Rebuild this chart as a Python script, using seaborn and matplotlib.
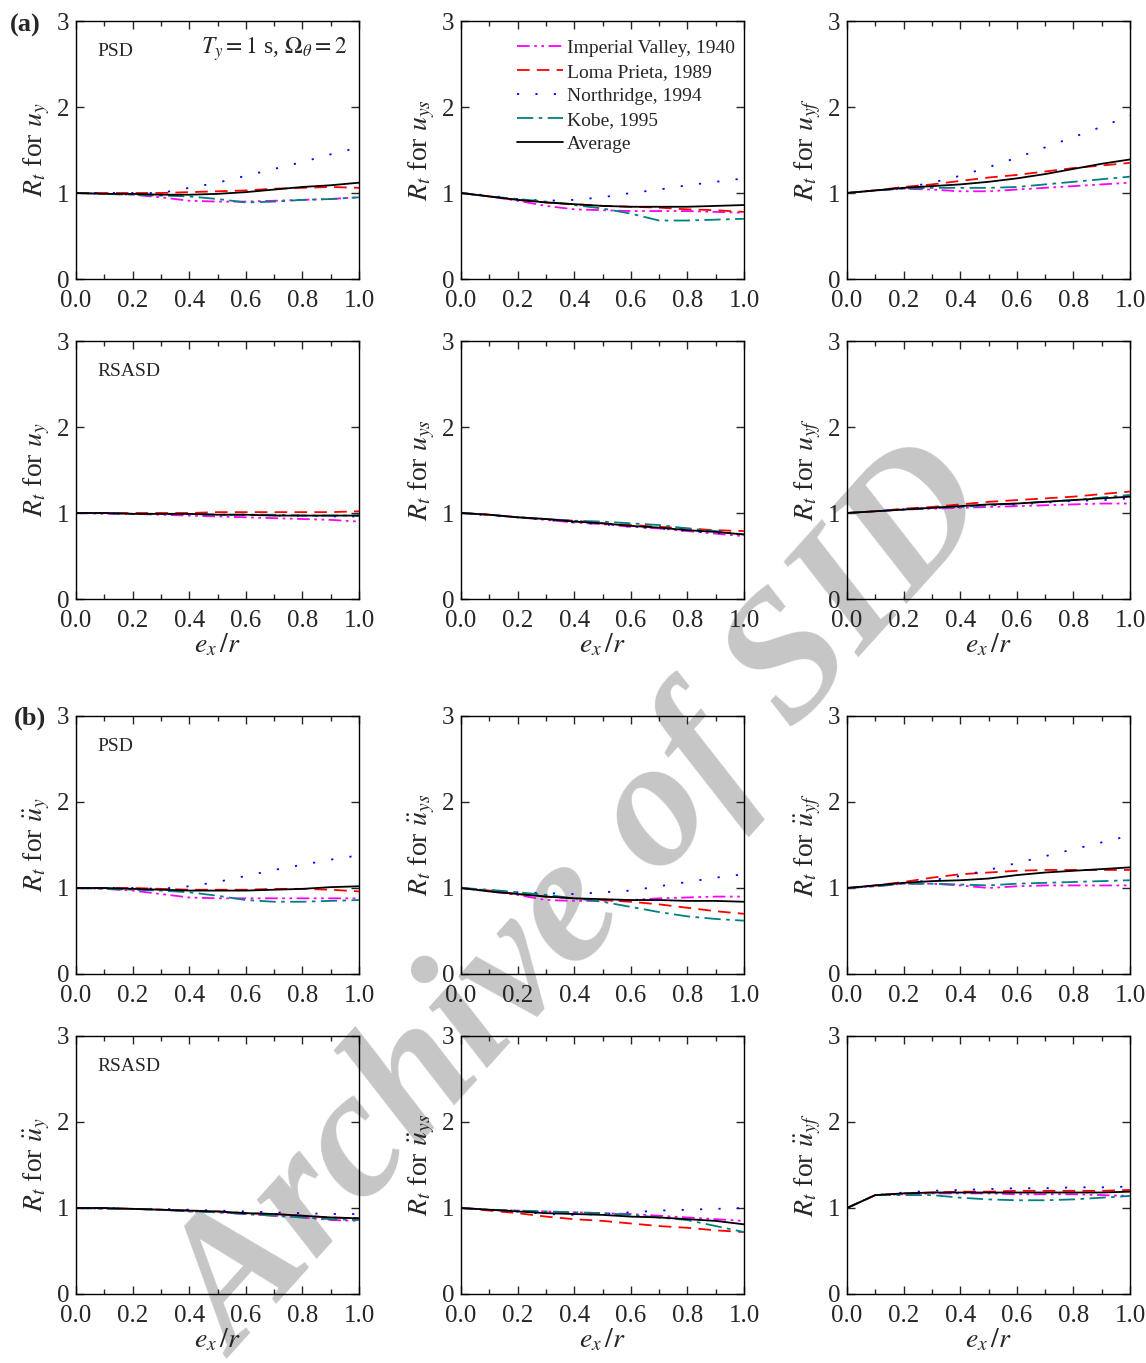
import numpy as np
import pandas as pd
import matplotlib
matplotlib.use("Agg")
import matplotlib.pyplot as plt
from matplotlib.ticker import MultipleLocator
import seaborn as sns

# ---------------- data ----------------
ex = [0.0, 0.1, 0.2, 0.3, 0.4, 0.5, 0.6, 0.7, 0.8, 0.9, 1.0]
quakes = ["Imperial Valley, 1940", "Loma Prieta, 1989", "Northridge, 1994", "Kobe, 1995", "Average"]

# (a) PSD
a_psd_uy_imp = [1.0, 0.99, 0.98, 0.95, 0.91, 0.90, 0.90, 0.91, 0.92, 0.93, 0.95]
a_psd_uy_lom = [1.0, 1.0, 1.0, 1.0, 1.01, 1.02, 1.03, 1.05, 1.06, 1.07, 1.06]
a_psd_uy_nor = [1.0, 1.0, 1.0, 1.0, 1.06, 1.12, 1.20, 1.28, 1.36, 1.45, 1.53]
a_psd_uy_kob = [1.0, 0.99, 0.98, 0.97, 0.96, 0.93, 0.89, 0.90, 0.92, 0.93, 0.95]
a_psd_uy_avg = [1.0, 0.99, 0.99, 0.98, 0.98, 0.99, 1.01, 1.04, 1.07, 1.09, 1.12]

a_psd_uys_imp = [1.0, 0.96, 0.91, 0.85, 0.81, 0.80, 0.79, 0.79, 0.79, 0.78, 0.77]
a_psd_uys_lom = [1.0, 0.96, 0.92, 0.89, 0.87, 0.85, 0.84, 0.83, 0.81, 0.80, 0.78]
a_psd_uys_nor = [1.0, 0.97, 0.93, 0.91, 0.92, 0.95, 1.00, 1.04, 1.09, 1.13, 1.17]
a_psd_uys_kob = [1.0, 0.96, 0.93, 0.90, 0.86, 0.82, 0.76, 0.68, 0.68, 0.69, 0.70]
a_psd_uys_avg = [1.0, 0.96, 0.92, 0.89, 0.87, 0.85, 0.84, 0.84, 0.84, 0.85, 0.86]

a_psd_uyf_imp = [1.0, 1.03, 1.05, 1.04, 1.02, 1.02, 1.04, 1.06, 1.08, 1.10, 1.12]
a_psd_uyf_lom = [1.0, 1.03, 1.07, 1.10, 1.14, 1.18, 1.21, 1.25, 1.29, 1.32, 1.35]
a_psd_uyf_nor = [1.0, 1.03, 1.06, 1.12, 1.20, 1.30, 1.41, 1.53, 1.65, 1.77, 1.90]
a_psd_uyf_kob = [1.0, 1.03, 1.05, 1.06, 1.06, 1.06, 1.07, 1.10, 1.13, 1.16, 1.19]
a_psd_uyf_avg = [1.0, 1.03, 1.06, 1.08, 1.10, 1.13, 1.17, 1.22, 1.28, 1.34, 1.39]

# (a) RSASD
a_rs_uy_imp = [1.0, 0.99, 0.99, 0.98, 0.97, 0.96, 0.95, 0.94, 0.93, 0.92, 0.90]
a_rs_uy_lom = [1.0, 1.0, 1.0, 1.0, 1.0, 1.01, 1.01, 1.01, 1.01, 1.01, 1.02]
a_rs_uy_nor = [1.0, 1.0, 0.99, 0.99, 0.99, 0.98, 0.98, 0.97, 0.97, 0.96, 0.96]
a_rs_uy_kob = [1.0, 1.0, 0.99, 0.99, 0.99, 0.98, 0.98, 0.98, 0.97, 0.97, 0.97]
a_rs_uy_avg = [1.0, 1.0, 0.99, 0.99, 0.99, 0.98, 0.98, 0.97, 0.97, 0.97, 0.97]

a_rs_uys_imp = [1.0, 0.98, 0.95, 0.92, 0.89, 0.87, 0.84, 0.82, 0.79, 0.76, 0.73]
a_rs_uys_lom = [1.0, 0.98, 0.95, 0.93, 0.91, 0.88, 0.86, 0.84, 0.82, 0.80, 0.79]
a_rs_uys_nor = [1.0, 0.97, 0.95, 0.92, 0.89, 0.87, 0.84, 0.82, 0.79, 0.77, 0.75]
a_rs_uys_kob = [1.0, 0.98, 0.95, 0.93, 0.91, 0.90, 0.88, 0.86, 0.82, 0.79, 0.75]
a_rs_uys_avg = [1.0, 0.98, 0.95, 0.93, 0.90, 0.88, 0.85, 0.83, 0.80, 0.78, 0.75]

a_rs_uyf_imp = [1.0, 1.02, 1.04, 1.05, 1.06, 1.07, 1.08, 1.09, 1.10, 1.11, 1.11]
a_rs_uyf_lom = [1.0, 1.02, 1.05, 1.07, 1.10, 1.13, 1.15, 1.17, 1.19, 1.22, 1.25]
a_rs_uyf_nor = [1.0, 1.02, 1.04, 1.06, 1.07, 1.09, 1.10, 1.12, 1.14, 1.15, 1.17]
a_rs_uyf_kob = [1.0, 1.02, 1.04, 1.06, 1.07, 1.09, 1.11, 1.13, 1.15, 1.18, 1.21]
a_rs_uyf_avg = [1.0, 1.02, 1.04, 1.06, 1.08, 1.10, 1.11, 1.13, 1.15, 1.17, 1.19]

# (b) PSD
b_psd_uy_imp = [1.0, 0.99, 0.97, 0.93, 0.89, 0.88, 0.88, 0.88, 0.88, 0.88, 0.88]
b_psd_uy_lom = [1.0, 1.0, 1.0, 0.99, 0.98, 0.98, 0.98, 0.99, 0.99, 0.98, 0.96]
b_psd_uy_nor = [1.0, 1.0, 1.0, 0.99, 1.02, 1.07, 1.14, 1.21, 1.27, 1.33, 1.38]
b_psd_uy_kob = [1.0, 0.99, 0.98, 0.97, 0.95, 0.91, 0.86, 0.84, 0.84, 0.85, 0.86]
b_psd_uy_avg = [1.0, 1.0, 0.99, 0.98, 0.97, 0.97, 0.97, 0.98, 0.99, 1.01, 1.02]

b_psd_uys_imp = [1.0, 0.96, 0.92, 0.86, 0.85, 0.85, 0.86, 0.88, 0.89, 0.90, 0.90]
b_psd_uys_lom = [1.0, 0.97, 0.93, 0.90, 0.88, 0.86, 0.84, 0.81, 0.77, 0.73, 0.70]
b_psd_uys_nor = [1.0, 0.97, 0.95, 0.94, 0.93, 0.95, 0.97, 1.02, 1.07, 1.12, 1.16]
b_psd_uys_kob = [1.0, 0.98, 0.95, 0.92, 0.88, 0.84, 0.78, 0.72, 0.67, 0.64, 0.62]
b_psd_uys_avg = [1.0, 0.96, 0.93, 0.90, 0.88, 0.87, 0.86, 0.86, 0.85, 0.85, 0.84]

b_psd_uyf_imp = [1.0, 1.02, 1.05, 1.05, 1.03, 1.00, 1.02, 1.03, 1.03, 1.03, 1.03]
b_psd_uyf_lom = [1.0, 1.03, 1.07, 1.12, 1.16, 1.18, 1.20, 1.21, 1.21, 1.21, 1.21]
b_psd_uyf_nor = [1.0, 1.03, 1.06, 1.09, 1.14, 1.21, 1.29, 1.37, 1.45, 1.53, 1.61]
b_psd_uyf_kob = [1.0, 1.02, 1.05, 1.05, 1.04, 1.03, 1.05, 1.06, 1.07, 1.08, 1.09]
b_psd_uyf_avg = [1.0, 1.03, 1.06, 1.08, 1.09, 1.11, 1.15, 1.18, 1.20, 1.22, 1.24]

# (b) RSASD
b_rs_uy_imp = [1.0, 0.99, 0.99, 0.98, 0.96, 0.95, 0.93, 0.91, 0.89, 0.86, 0.85]
b_rs_uy_lom = [1.0, 1.0, 0.99, 0.98, 0.97, 0.96, 0.94, 0.93, 0.91, 0.89, 0.88]
b_rs_uy_nor = [1.0, 1.0, 0.99, 0.99, 0.98, 0.97, 0.96, 0.95, 0.94, 0.93, 0.93]
b_rs_uy_kob = [1.0, 0.99, 0.99, 0.98, 0.96, 0.95, 0.93, 0.91, 0.89, 0.87, 0.86]
b_rs_uy_avg = [1.0, 1.0, 0.99, 0.98, 0.97, 0.96, 0.94, 0.93, 0.91, 0.89, 0.88]

b_rs_uys_imp = [1.0, 0.98, 0.97, 0.96, 0.95, 0.94, 0.93, 0.91, 0.89, 0.87, 0.85]
b_rs_uys_lom = [1.0, 0.97, 0.94, 0.90, 0.87, 0.85, 0.82, 0.79, 0.77, 0.74, 0.72]
b_rs_uys_nor = [1.0, 0.98, 0.96, 0.93, 0.92, 0.93, 0.95, 0.97, 0.98, 0.99, 1.00]
b_rs_uys_kob = [1.0, 0.98, 0.97, 0.96, 0.95, 0.94, 0.92, 0.89, 0.86, 0.79, 0.72]
b_rs_uys_avg = [1.0, 0.98, 0.96, 0.94, 0.93, 0.92, 0.90, 0.89, 0.87, 0.85, 0.81]

b_rs_uyf_imp = [1.0, 1.15, 1.16, 1.17, 1.17, 1.17, 1.16, 1.16, 1.16, 1.15, 1.14]
b_rs_uyf_lom = [1.0, 1.15, 1.17, 1.18, 1.19, 1.19, 1.20, 1.20, 1.20, 1.20, 1.21]
b_rs_uyf_nor = [1.0, 1.15, 1.18, 1.20, 1.21, 1.22, 1.23, 1.23, 1.24, 1.24, 1.25]
b_rs_uyf_kob = [1.0, 1.15, 1.15, 1.15, 1.12, 1.10, 1.09, 1.09, 1.10, 1.12, 1.14]
b_rs_uyf_avg = [1.0, 1.15, 1.17, 1.18, 1.18, 1.18, 1.18, 1.18, 1.18, 1.18, 1.19]

panels = [
    [(a_psd_uy_imp, a_psd_uy_lom, a_psd_uy_nor, a_psd_uy_kob, a_psd_uy_avg),
     (a_psd_uys_imp, a_psd_uys_lom, a_psd_uys_nor, a_psd_uys_kob, a_psd_uys_avg),
     (a_psd_uyf_imp, a_psd_uyf_lom, a_psd_uyf_nor, a_psd_uyf_kob, a_psd_uyf_avg)],
    [(a_rs_uy_imp, a_rs_uy_lom, a_rs_uy_nor, a_rs_uy_kob, a_rs_uy_avg),
     (a_rs_uys_imp, a_rs_uys_lom, a_rs_uys_nor, a_rs_uys_kob, a_rs_uys_avg),
     (a_rs_uyf_imp, a_rs_uyf_lom, a_rs_uyf_nor, a_rs_uyf_kob, a_rs_uyf_avg)],
    [(b_psd_uy_imp, b_psd_uy_lom, b_psd_uy_nor, b_psd_uy_kob, b_psd_uy_avg),
     (b_psd_uys_imp, b_psd_uys_lom, b_psd_uys_nor, b_psd_uys_kob, b_psd_uys_avg),
     (b_psd_uyf_imp, b_psd_uyf_lom, b_psd_uyf_nor, b_psd_uyf_kob, b_psd_uyf_avg)],
    [(b_rs_uy_imp, b_rs_uy_lom, b_rs_uy_nor, b_rs_uy_kob, b_rs_uy_avg),
     (b_rs_uys_imp, b_rs_uys_lom, b_rs_uys_nor, b_rs_uys_kob, b_rs_uys_avg),
     (b_rs_uyf_imp, b_rs_uyf_lom, b_rs_uyf_nor, b_rs_uyf_kob, b_rs_uyf_avg)],
]

ylabels_disp = [r"$R_t$ for $u_y$", r"$R_t$ for $u_{ys}$", r"$R_t$ for $u_{yf}$"]
ylabels_acc = [r"$R_t$ for $\ddot{u}_y$", r"$R_t$ for $\ddot{u}_{ys}$", r"$R_t$ for $\ddot{u}_{yf}$"]
row_tags = ["PSD", "RSASD", "PSD", "RSASD"]

colors = ["#FF00FF", "#FF0000", "#0000FF", "#008080", "#000000"]
styles = [(0, (7, 2.5, 1.5, 2.5, 1.5, 2.5)), (0, (7, 4)), (0, (1.2, 9)),
          (0, (9, 3, 2, 3)), "-"]

# ---------------- style ----------------
sns.set_theme(style="ticks")
plt.rcParams["font.family"] = ["Liberation Serif", "DejaVu Serif"]
plt.rcParams["mathtext.fontset"] = "stix"
plt.rcParams["axes.linewidth"] = 1.0

fig = plt.figure(figsize=(11.46, 13.63), dpi=100)
W, H = 1146, 1363
col_left = [76, 461, 847]
row_top = [21, 341, 716, 1036]
aw, ah = 283, 258

for r in range(4):
    for c in range(3):
        l = col_left[c]
        t = row_top[r]
        ax = fig.add_axes([l / W, 1 - (t + ah) / H, aw / W, ah / H])
        ax.set_facecolor("none")
        series = panels[r][c]
        for i, vals in enumerate(series):
            df = pd.DataFrame({"ex": ex, "R": vals})
            sns.lineplot(data=df, x="ex", y="R", ax=ax, color=colors[i],
                         linestyle=styles[i], linewidth=1.3, label=quakes[i],
                         legend=False, zorder=3 + (i == 4))
        ax.set_xlim(0, 1.0)
        ax.set_ylim(0, 3)
        ax.xaxis.set_major_locator(MultipleLocator(0.2))
        ax.xaxis.set_minor_locator(MultipleLocator(0.1))
        ax.yaxis.set_major_locator(MultipleLocator(1))
        ax.xaxis.set_major_formatter(matplotlib.ticker.FormatStrFormatter("%.1f"))
        ax.tick_params(which="both", direction="in", top=True, right=True,
                       labelsize=18, width=1.0)
        ax.tick_params(axis="x", which="both", pad=8)
        ax.tick_params(axis="y", which="both", pad=5)
        ax.tick_params(which="major", length=6)
        ax.tick_params(which="minor", length=3.5)
        for s in ax.spines.values():
            s.set_visible(True)
            s.set_color("black")
        ylab = ylabels_disp[c] if r < 2 else ylabels_acc[c]
        ax.set_ylabel(ylab, fontsize=20, labelpad=3)
        if r in (1, 3):
            ax.set_xlabel(r"$e_x\,/r$", fontsize=20, labelpad=0)
        else:
            ax.set_xlabel("")
        if c == 0:
            ax.text(0.075, 0.88, row_tags[r], transform=ax.transAxes,
                    fontsize=14, ha="left", va="center")
        if r == 0 and c == 0:
            ax.text(0.96, 0.89, r"$T_y = 1$ s, $\Omega_\theta = 2$",
                    transform=ax.transAxes, fontsize=17, ha="right", va="center")
        if r == 0 and c == 1:
            ax.legend(loc="upper left", bbox_to_anchor=(0.155, 0.975), frameon=False,
                      fontsize=14, handlelength=2.4, handletextpad=0.2,
                      labelspacing=0.33, borderaxespad=0.2)

fig.text(10 / W, 1 - 25 / H, "(a)", fontsize=19, fontweight="bold",
         ha="left", va="center")
fig.text(14 / W, 1 - 718 / H, "(b)", fontsize=19, fontweight="bold",
         ha="left", va="center")

# watermark as seen in the reference
fig.text(585 / W, 1 - 905 / H, "Archive of SID", fontsize=132, fontweight="bold",
         fontstyle="italic", color="#c6c6c6", rotation=48,
         ha="center", va="center", zorder=-1)

fig.savefig("out.png", dpi=100)
